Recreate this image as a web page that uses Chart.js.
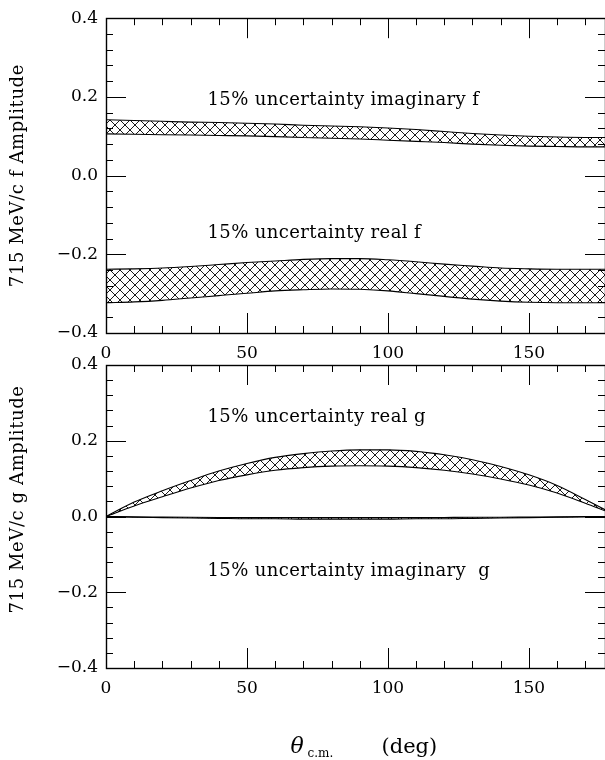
<!DOCTYPE html>
<html><head><meta charset="utf-8">
<script src="https://cdn.jsdelivr.net/npm/chart.js@4.4.1/dist/chart.umd.min.js"></script>
<style>
html,body{margin:0;padding:0;background:#fff;width:605px;height:760px;overflow:hidden;position:relative}
canvas{position:absolute;left:0;display:block}
#c1{top:0}
#c2{top:330px}
</style></head><body>
<canvas id="c1" width="605" height="360"></canvas>
<canvas id="c2" width="605" height="430"></canvas>
<script>
// ---- data ----
const angles      = [0,10,20,30,40,50,60,70,80,90,100,110,120,130,140,150,160,170,177];
const imagFUpper  = [0.142,0.140,0.138,0.136,0.135,0.133,0.131,0.128,0.126,0.124,0.121,0.117,0.112,0.107,0.103,0.100,0.098,0.097,0.097];
const imagFLower  = [0.106,0.105,0.104,0.103,0.102,0.101,0.099,0.097,0.095,0.093,0.090,0.087,0.084,0.080,0.077,0.075,0.074,0.073,0.073];
const realFUpper  = [-0.238,-0.237,-0.235,-0.231,-0.226,-0.221,-0.217,-0.213,-0.211,-0.211,-0.214,-0.219,-0.225,-0.230,-0.235,-0.237,-0.238,-0.238,-0.238];
const realFLower  = [-0.323,-0.321,-0.317,-0.311,-0.305,-0.299,-0.293,-0.290,-0.288,-0.289,-0.293,-0.300,-0.307,-0.314,-0.319,-0.322,-0.323,-0.323,-0.323];
const realGUpper  = [0.000,0.038,0.068,0.095,0.120,0.140,0.156,0.166,0.173,0.176,0.176,0.172,0.163,0.150,0.132,0.110,0.082,0.045,0.018];
const realGLower  = [0.000,0.028,0.052,0.075,0.095,0.110,0.122,0.129,0.133,0.134,0.133,0.129,0.122,0.112,0.099,0.083,0.062,0.035,0.015];
const imagGUpper  = [0,-0.001,-0.0015,-0.002,-0.0025,-0.003,-0.003,-0.003,-0.003,-0.003,-0.003,-0.003,-0.0025,-0.002,-0.002,-0.0015,-0.001,0,0];
const imagGLower  = [0,-0.002,-0.003,-0.004,-0.005,-0.006,-0.006,-0.007,-0.007,-0.007,-0.007,-0.006,-0.006,-0.005,-0.004,-0.003,-0.002,-0.001,0];
const xTickValues = [0,50,100,150];
const xTickLabels = ['0','50','100','150'];
const yTickValues = [-0.4,-0.2,0,0.2,0.4];
const yTickLabels = ['\u22120.4','\u22120.2','0.0','0.2','0.4'];
const topLabels   = ['15% uncertainty imaginary f','15% uncertainty real f'];
const botLabels   = ['15% uncertainty real g','15% uncertainty imaginary  g'];
const topTitle    = '715 MeV/c f Amplitude';
const botTitle    = '715 MeV/c g Amplitude';

// ---- styling / layout ----
const FONT = 'DejaVu Serif';
const X_MAX = 177;
const labelPos = { top: [[36,0.18],[36,-0.1575]], bot: [[36,0.25],[36,-0.158]] };
const titleCenter = { top: 0.0, bot: 0.045 };

function hatch(){
  const t = document.createElement('canvas'); t.width = 10; t.height = 10;
  const c = t.getContext('2d');
  c.strokeStyle = '#000'; c.lineWidth = 0.9;
  c.beginPath(); c.moveTo(-1,-1); c.lineTo(11,11); c.moveTo(-1,11); c.lineTo(11,-1); c.stroke();
  return document.getElementById('c1').getContext('2d').createPattern(t,'repeat');
}
const PAT = hatch();
const pts = arr => angles.map((a,i)=>({x:a,y:arr[i]}));
function band(up, lo){
  return [
    {data:pts(up), borderColor:'#000', borderWidth:1.1, pointRadius:0, fill:'+1', backgroundColor:PAT, cubicInterpolationMode:'monotone'},
    {data:pts(lo), borderColor:'#000', borderWidth:1.1, pointRadius:0, fill:false, cubicInterpolationMode:'monotone'}
  ];
}

const frameTicks = {
  id:'frameTicks',
  afterDraw(chart){
    const {ctx, chartArea:a, scales:{x,y}} = chart;
    const o = chart.options.plugins.frameTicks;
    ctx.save();
    ctx.strokeStyle = '#000'; ctx.lineWidth = 1;
    ctx.beginPath();
    for (let v = 10; v < X_MAX; v += 10){
      const px = Math.round(x.getPixelForValue(v)) + 0.5;
      const L = (v % 50 === 0) ? 20 : 7;
      ctx.moveTo(px, a.bottom); ctx.lineTo(px, a.bottom - L);
      ctx.moveTo(px, a.top); ctx.lineTo(px, a.top + L);
    }
    for (let k = -9; k <= 9; k++){
      const v = k * 0.04;
      const py = Math.round(y.getPixelForValue(v)) + 0.5;
      const L = (Math.abs(k) % 5 === 0) ? 20 : 7;
      ctx.moveTo(a.left, py); ctx.lineTo(a.left + L, py);
      ctx.moveTo(a.right, py); ctx.lineTo(a.right - L, py);
    }
    ctx.stroke();
    ctx.lineWidth = 1.4;
    ctx.strokeRect(Math.round(a.left)+0.5, Math.round(a.top)+0.5, Math.round(a.right-a.left), Math.round(a.bottom-a.top));
    ctx.fillStyle = '#000';
    // annotation labels
    ctx.font = '18px "' + FONT + '"';
    ctx.letterSpacing = '0.4px';
    ctx.textBaseline = 'alphabetic'; ctx.textAlign = 'left';
    o.texts.forEach((t,i)=> ctx.fillText(t, x.getPixelForValue(o.pos[i][0]), y.getPixelForValue(o.pos[i][1])));
    // y-axis title
    ctx.save();
    ctx.translate(18, y.getPixelForValue(o.titleCenter));
    ctx.rotate(-Math.PI/2);
    ctx.textAlign = 'center'; ctx.textBaseline = 'middle';
    ctx.letterSpacing = '0.6px';
    ctx.fillText(o.title, 0, 0);
    ctx.restore();
    ctx.letterSpacing = '0px';
    if (o.xTitle){
      const cx = (a.left + a.right)/2, by = a.bottom + 85;
      ctx.font = 'italic 22px "' + FONT + '"';
      ctx.fillText('\u03B8', cx - 65, by);
      ctx.font = '12px "' + FONT + '"';
      ctx.fillText('c.m.', cx - 48, by + 4);
      ctx.font = '21px "' + FONT + '"';
      ctx.fillText('(deg)', cx + 26, by);
    }
    ctx.restore();
  }
};

function makeChart(id, datasets, titleText, titleC, texts, pos, padTop, xHeight, xTitle){
  return new Chart(document.getElementById(id), {
    type:'line',
    data:{datasets},
    options:{
      responsive:false, animation:false, devicePixelRatio:1,
      layout:{padding:{top:padTop,left:0,right:0,bottom:0}},
      plugins:{legend:{display:false}, tooltip:{enabled:false},
               frameTicks:{texts, pos, xTitle, title:titleText, titleCenter:titleC}},
      scales:{
        x:{type:'linear', min:0, max:X_MAX,
           afterFit(s){ s.height = xHeight; },
           afterBuildTicks(s){ s.ticks = xTickValues.map(v=>({value:v})); },
           grid:{display:false, drawTicks:false}, border:{display:false},
           ticks:{color:'#000', padding:10, maxRotation:0, autoSkip:false,
                  font:{family:FONT, size:17},
                  callback:(v,i)=> xTickLabels[i]}},
        y:{type:'linear', min:-0.4, max:0.4,
           afterFit(s){ s.width = 106; },
           afterBuildTicks(s){ s.ticks = yTickValues.map(v=>({value:v})); },
           grid:{display:false, drawTicks:false}, border:{display:false},
           ticks:{color:'#000', padding:8, autoSkip:false,
                  font:{family:FONT, size:17},
                  callback:(v,i)=> yTickLabels[i]}}
      }
    },
    plugins:[frameTicks]
  });
}

makeChart('c1', [...band(imagFUpper, imagFLower), ...band(realFUpper, realFLower)],
  topTitle, titleCenter.top, topLabels, labelPos.top, 13, 27, false);
makeChart('c2', [...band(realGUpper, realGLower), ...band(imagGUpper, imagGLower)],
  botTitle, titleCenter.bot, botLabels, labelPos.bot, 35, 92, true);
</script>
</body></html>
